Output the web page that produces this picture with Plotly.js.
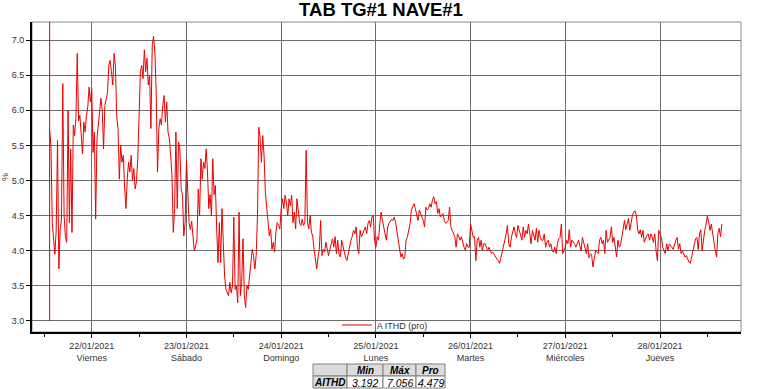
<!DOCTYPE html>
<html><head><meta charset="utf-8">
<script src="https://cdn.plot.ly/plotly-3.0.1.min.js"></script>
<style>html,body{margin:0;padding:0;background:#fff}#chart{width:762px;height:389px}</style>
</head><body><div id="chart"></div>
<script>
const chartTitle = "TAB TG#1 NAVE#1";
const seriesName = "A ITHD (pro)";
const yUnit = "%";
const startTime = "2021-01-21T13:20:00Z";
const stepMinutes = 20;
const cursorTime = "2021-01-21 13:20";
const ithdValues = [
5.71,5.5,4.4,4.15,3.95,4.3,5.57,3.74,4.3,4.45,
6.38,4.5,4.2,4.12,6.0,4.4,5.45,4.26,5.79,5.64,
5.9,6.81,5.85,5.93,5.6,5.38,5.83,5.69,5.93,6.05,
6.33,6.12,6.31,5.4,5.69,4.45,5.6,5.83,6.02,6.17,
6.0,5.45,6.07,6.17,6.25,6.64,6.71,6.55,6.36,6.81,
6.64,5.9,5.74,5.02,5.5,5.26,5.36,4.9,4.6,5.02,
5.26,5.12,5.36,5.0,5.17,4.88,4.98,5.31,5.83,6.55,
6.64,6.45,6.86,6.55,6.74,6.36,6.5,5.74,6.93,7.056,
6.83,6.26,5.12,5.74,5.88,5.79,6.07,6.21,5.83,6.12,
5.69,5.6,5.36,5.07,4.26,4.6,5.69,4.6,5.55,5.45,
4.88,4.79,4.21,4.4,5.3,4.9,4.4,4.3,4.42,4.2,
4.0,4.07,4.17,4.88,4.5,5.31,5.02,5.26,5.17,5.45,
5.12,4.6,4.8,4.5,5.31,4.8,4.93,4.31,3.83,4.4,
3.83,4.6,3.93,3.64,3.45,3.4,3.36,3.55,3.4,3.5,
4.48,3.45,3.5,3.26,4.55,3.36,3.55,4.17,3.36,3.192,
3.5,3.45,3.6,3.83,4.02,3.93,3.74,3.93,4.5,5.76,
5.6,5.26,5.64,5.36,4.83,4.6,4.31,4.21,4.31,4.02,
4.12,3.98,4.26,4.4,4.36,4.31,4.6,4.74,4.6,4.79,
4.69,4.5,4.74,4.64,4.79,4.4,4.55,4.31,4.74,4.6,
4.4,4.36,4.45,4.36,4.4,5.43,4.4,4.31,4.5,4.26,
4.21,4.02,3.83,3.74,3.9,4.02,4.43,3.93,4.02,3.98,
4.12,4.02,3.93,4.02,4.12,4.17,4.05,4.2,3.96,4.15,
3.95,3.91,4.15,4.05,3.96,3.9,3.86,3.96,4.05,4.15,
4.2,4.29,4.24,4.34,4.05,3.96,4.29,4.2,4.24,4.3,
4.34,4.24,4.39,4.43,4.34,4.48,4.5,4.15,4.05,4.2,
4.15,4.39,4.55,4.43,4.3,4.24,4.15,4.34,4.39,4.43,
4.45,4.43,4.48,4.4,4.29,4.15,4.05,3.91,3.96,3.88,
3.91,4.15,4.2,4.3,4.39,4.58,4.62,4.67,4.6,4.53,
4.43,4.58,4.53,4.45,4.43,4.34,4.62,4.58,4.6,4.67,
4.62,4.72,4.77,4.67,4.7,4.53,4.6,4.48,4.5,4.53,
4.43,4.39,4.41,4.43,4.62,4.34,4.29,4.24,4.2,4.05,
4.24,4.2,4.15,4.2,4.1,4.05,4.01,4.1,4.05,4.05,
4.38,4.29,4.19,4.2,3.86,4.15,4.19,4.05,4.15,4.0,
4.1,4.1,4.05,4.0,4.05,4.0,3.96,3.98,3.94,3.91,
3.88,3.86,3.82,3.9,4.0,4.05,4.15,4.24,4.36,4.1,
4.05,4.19,4.29,4.34,4.24,4.19,4.36,4.29,4.2,4.15,
4.34,4.19,4.29,4.24,4.38,4.19,4.1,4.29,4.2,4.15,
4.32,4.12,4.29,4.19,4.15,4.15,4.24,4.05,4.12,4.15,
4.05,4.1,4.0,3.98,4.05,3.96,4.1,4.17,4.19,4.38,
3.96,4.0,4.05,4.15,4.1,4.3,4.05,4.15,4.12,4.1,
4.05,4.12,4.15,4.07,4.0,4.19,4.1,4.05,3.96,4.1,
3.9,3.96,3.94,3.77,3.86,4.0,3.98,3.96,4.15,4.19,
4.1,4.15,3.96,4.29,4.12,4.17,4.19,4.34,4.12,4.19,
4.05,3.91,4.15,4.05,4.08,4.2,4.34,4.43,4.3,4.38,
4.46,4.29,4.43,4.5,4.55,4.57,4.5,4.3,4.24,4.3,
4.19,4.29,4.12,4.19,4.22,4.24,4.15,4.24,4.2,4.12,
4.24,4.0,3.86,4.29,4.24,4.19,4.05,4.0,3.96,4.1,
4.0,4.1,4.08,4.05,4.02,4.1,4.15,4.19,4.02,4.1,
3.96,4.0,3.96,3.91,3.93,3.88,3.84,3.82,3.91,3.96,
4.1,4.17,4.19,4.02,4.24,4.3,4.0,4.2,4.29,4.38,
4.5,4.4,4.29,4.38,4.2,4.12,4.0,3.91,4.25,4.32,
4.2,4.38
];
const dayTicks = ["2021-01-22","2021-01-23","2021-01-24","2021-01-25","2021-01-26","2021-01-27","2021-01-28"];
const dayTickLabels = ["22/01/2021<br>Viernes","23/01/2021<br>Sábado","24/01/2021<br>Domingo","25/01/2021<br>Lunes","26/01/2021<br>Martes","27/01/2021<br>Miércoles","28/01/2021<br>Jueves"];
const yTicks = [3.0,3.5,4.0,4.5,5.0,5.5,6.0,6.5,7.0];
const yTickLabels = ["3.0","3.5","4.0","4.5","5.0","5.5","6.0","6.5","7.0"];
const tableHeader = ["", "Min", "Máx", "Pro"];
const tableRowLabel = "AITHD";
const tableStats = ["3.192", "7.056", "4.479"];

const FONT = "Arial, 'Liberation Sans', sans-serif";
const W = 762, H = 389;
const t0 = Date.parse(startTime);
const times = ithdValues.map((_, i) => new Date(t0 + i * stepMinutes * 60000).toISOString().slice(0, 19).replace('T', ' '));
const yRange = [2.843, 7.257];

const lineTrace = {
  type: 'scatter', mode: 'lines', name: seriesName,
  x: times, y: ithdValues,
  line: {color: 'rgb(236,0,0)', width: 1},
  showlegend: true
};

// summary table drawn with shapes + annotations (paper coordinates)
const colEdges = [313, 347, 383, 416, 445];
const rowEdges = [364, 376, 388];
const px = v => v / W, py = v => 1 - v / H;
const tableShapes = [], tableNotes = [];
const rows = [tableHeader, [tableRowLabel].concat(tableStats)];
rows.forEach((row, r) => {
  row.forEach((txt, c) => {
    const gray = (r === 0) || (c === 0);
    tableShapes.push({type: 'rect', xref: 'paper', yref: 'paper',
      x0: px(colEdges[c]), x1: px(colEdges[c + 1]), y0: py(rowEdges[r + 1]), y1: py(rowEdges[r]),
      fillcolor: gray ? '#dcdcdc' : '#ffffff', line: {color: '#808080', width: 1}, layer: 'above'});
    if (txt) {
      const bold = (r === 0) || (c === 0);
      tableNotes.push({xref: 'paper', yref: 'paper', showarrow: false,
        x: px((colEdges[c] + colEdges[c + 1]) / 2), y: py((rowEdges[r] + rowEdges[r + 1]) / 2 + 0.5),
        xanchor: 'center', yanchor: 'middle',
        text: bold ? '<b><i>' + txt + '</i></b>' : '<i>' + txt + '</i>',
        font: {family: FONT, size: bold ? 10 : 10.5, color: '#000'}});
    }
  });
});

const layout = {
  width: W, height: H,
  margin: {l: 0, r: 0, t: 0, b: 0},
  paper_bgcolor: '#fff', plot_bgcolor: '#fff',
  font: {family: FONT, size: 9, color: '#333'},
  title: {text: '<b>' + chartTitle + '</b>', x: 0.5, xanchor: 'center', xref: 'paper', y: 1 - 10/389, yanchor: 'middle', yref: 'paper', font: {family: FONT, size: 18.5, color: '#000'}},
  xaxis: {
    domain: [32/W, 741/W], type: 'date',
    range: ['2021-01-21 08:52', '2021-01-28 20:31'],
    tickmode: 'array', tickvals: dayTicks, ticktext: dayTickLabels,
    tickfont: {family: FONT, size: 9, color: '#333'},
    ticks: 'outside', ticklen: 4, tickcolor: '#000',
    showgrid: true, gridcolor: '#6e6e6e', gridwidth: 1,
    showline: true, linecolor: '#000', linewidth: 2,
    zeroline: false, automargin: false, fixedrange: true,
    minor: {tickmode: 'linear', tick0: '2021-01-21 12:00', dtick: 43200000, ticks: 'outside', ticklen: 3, tickcolor: '#000', showgrid: false}
  },
  yaxis: {
    domain: [1 - 332/H, 1 - 22/H],
    range: yRange,
    tickmode: 'array', tickvals: yTicks, ticktext: yTickLabels,
    tickfont: {family: FONT, size: 9, color: '#333'},
    ticks: 'outside', ticklen: 4, tickcolor: '#000',
    showgrid: true, gridcolor: '#6e6e6e', gridwidth: 1,
    showline: true, linecolor: '#000', linewidth: 2,
    zeroline: false, automargin: false, fixedrange: true,
    title: {text: yUnit, standoff: 5, font: {family: FONT, size: 9, color: '#333'}}
  },
  showlegend: true,
  legend: {orientation: 'h', x: 0.505, xanchor: 'center', y: 1 - 325/H, yanchor: 'middle',
    bgcolor: 'rgba(255,255,255,0)', font: {family: FONT, size: 9, color: '#333'}, itemwidth: 30},
  shapes: [
    {type: 'rect', xref: 'x domain', yref: 'y domain', x0: 0, x1: 1, y0: 0, y1: 1, line: {color: '#8c8c8c', width: 1}, layer: 'below'},
    {type: 'line', xref: 'x', yref: 'y', x0: cursorTime, x1: cursorTime, y0: yTicks[0], y1: yRange[1], line: {color: 'rgb(220,0,0)', width: 1}}
  ].concat(tableShapes),
  annotations: tableNotes
};

Plotly.newPlot('chart', [lineTrace], layout, {staticPlot: true, displayModeBar: false});
</script>
</body></html>
